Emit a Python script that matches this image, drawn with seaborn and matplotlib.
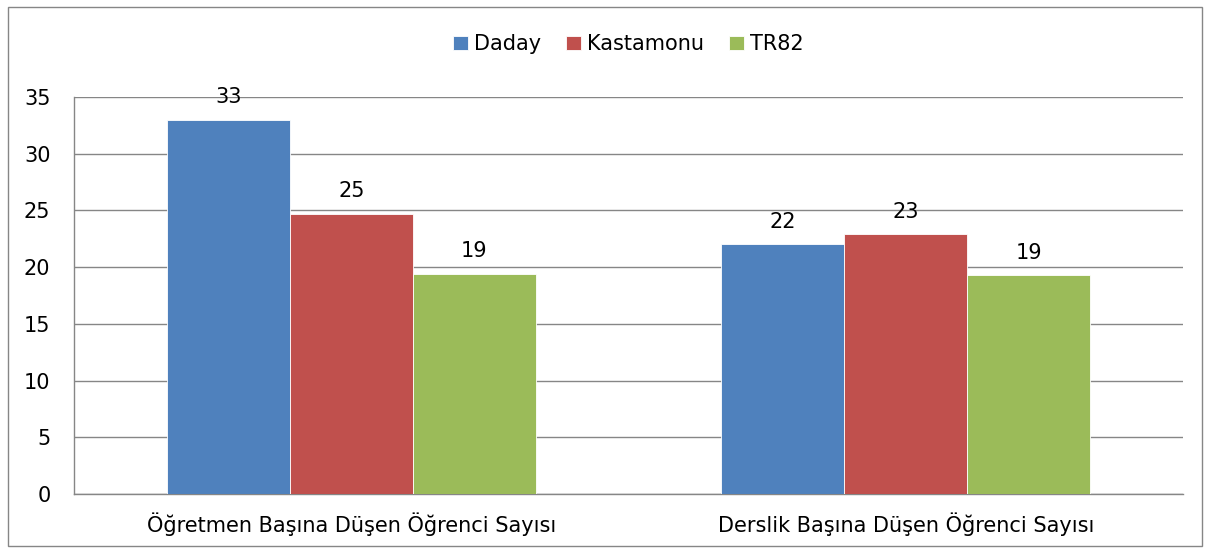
import numpy as np
import pandas as pd
import matplotlib
matplotlib.use("Agg")
import matplotlib.pyplot as plt
import seaborn as sns

categories = ["Öğretmen Başına Düşen Öğrenci Sayısı", "Derslik Başına Düşen Öğrenci Sayısı"]
series = ["Daday", "Kastamonu", "TR82"]
daday = [33.0, 22.0]
kastamonu = [24.7, 22.9]
tr82 = [19.4, 19.3]
yticks = [0, 5, 10, 15, 20, 25, 30, 35]

colors = ["#4F81BD", "#C0504D", "#9BBB59"]

df = pd.DataFrame({
    "Kategori": categories * 3,
    "Seri": [s for s in series for _ in categories],
    "Deger": daday + kastamonu + tr82,
})

sns.set_style("white")
plt.rcParams["font.family"] = ["DejaVu Sans"]
plt.rcParams["text.color"] = "black"
plt.rcParams["xtick.labelcolor"] = "black"
plt.rcParams["ytick.labelcolor"] = "black"

fig = plt.figure(figsize=(12.1, 5.52), dpi=100)
ax = fig.add_axes([74 / 1210, 1 - 494 / 552, (1183 - 74) / 1210, (494 - 97) / 552])

sns.barplot(data=df, x="Kategori", y="Deger", hue="Seri", hue_order=series,
            palette=colors, width=0.665, gap=0, saturation=1, ax=ax,
            edgecolor="white", linewidth=0.6, zorder=3)

for cont in ax.containers:
    ax.bar_label(cont, labels=[f"{v:.0f}" for v in cont.datavalues],
                 padding=9, fontsize=15, color="black")

ax.set_ylim(0, 35)
ax.set_yticks(yticks)
ax.set_yticklabels([str(t) for t in yticks], fontsize=15)
ax.set_xlim(-0.5, 1.5)
ax.set_xticks([-0.5, 0.5, 1.5], minor=False)
ax.set_xticklabels([])
ax.set_xticks([0, 1], minor=True)
ax.set_xticklabels(categories, minor=True, fontsize=15)
ax.tick_params(axis="x", which="minor", length=0, pad=13, labelcolor="black")
ax.tick_params(axis="x", which="major", length=6, color="#868686", direction="out")
ax.tick_params(axis="y", length=7, color="#868686", direction="out", pad=10, labelcolor="black")
ax.set_xlabel("")
ax.set_ylabel("")
ax.yaxis.grid(True, color="#868686", linewidth=1, zorder=0)
ax.set_axisbelow(True)
for side in ["top", "right"]:
    ax.spines[side].set_visible(False)
for side in ["left", "bottom"]:
    ax.spines[side].set_color("#868686")
    ax.spines[side].set_linewidth(1)

leg = ax.legend(loc="upper center", bbox_to_anchor=(0.5, 1.205), ncol=3, frameon=False,
                fontsize=15, handlelength=0.7, handleheight=0.7, handletextpad=0.3,
                columnspacing=1.2)
for t in leg.get_texts():
    t.set_color("black")

fig.patches.append(plt.Rectangle((8 / 1210, 1 - 546 / 552), 1194 / 1210, 539 / 552,
                                 transform=fig.transFigure, fill=False,
                                 edgecolor="#868686", linewidth=1))

fig.savefig("out.png", dpi=100)
